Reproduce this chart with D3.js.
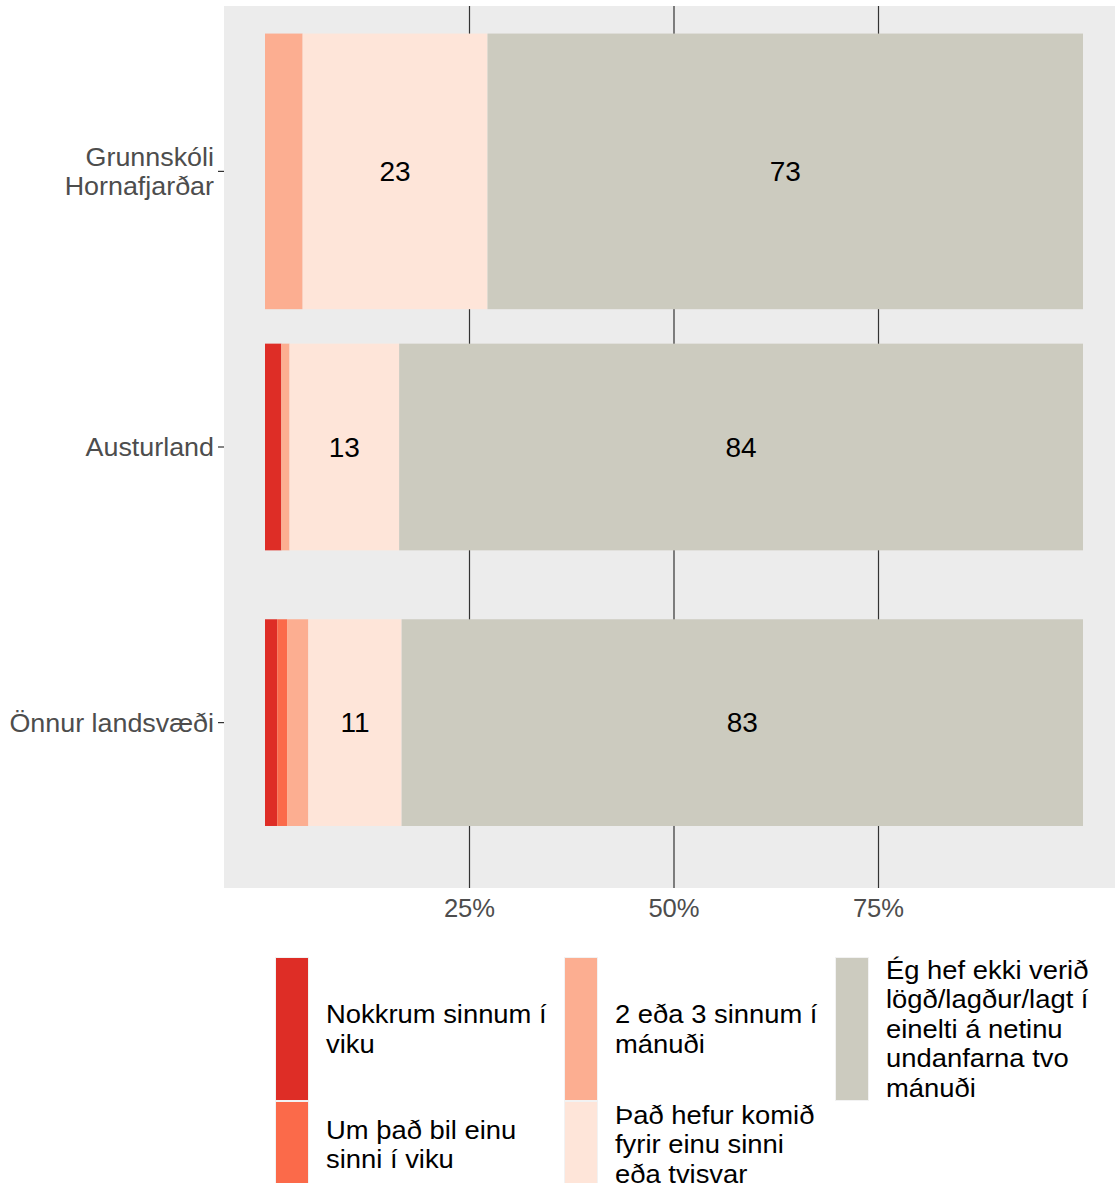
<!DOCTYPE html>
<html>
<head>
<meta charset="utf-8">
<script src="https://cdn.jsdelivr.net/npm/d3@7"></script>
<style>
  body { margin: 0; background: #fff; }
  svg { display: block; font-family: "Liberation Sans", Arial, sans-serif; }
</style>
</head>
<body>
<div id="chart"></div>
<script>
'use strict';

// categories (top to bottom)
var categories = ["Grunnskóli\nHornafjarðar", "Austurland", "Önnur landsvæði"];

// answer options, in stacking order (left to right)
var series = [
    "Nokkrum sinnum í\nviku",
    "Um það bil einu\nsinni í viku",
    "2 eða 3 sinnum í\nmánuði",
    "Það hefur komið\nfyrir einu sinni\neða tvisvar",
    "Ég hef ekki verið\nlögð/lagður/lagt í\neinelti á netinu\nundanfarna tvo\nmánuði"
];

// percentages per category, one array per answer option
var valNokkrum = [0, 2.0, 1.5];
var valEinuSinni = [0, 0, 1.2];
var valTvoThrju = [4.6, 1.0, 2.6];
var valEinuTvisvar = [22.6, 13.4, 11.4];
var valEkki = [72.8, 83.6, 83.3];

var xTicks = [0.25, 0.5, 0.75];
var xTickLabels = ["25%", "50%", "75%"];

var colors = ["#de2d26", "#fb6a4a", "#fcae91", "#fee5d9", "#cccbbf"];

(function() {
    var W = 1115, H = 1183;
    var panel = { left: 224, right: 1115, top: 6, bottom: 888 };
    var barWidths = [1.0, 0.75, 0.75]; // relative bar thickness per category

    var allVals = [valNokkrum, valEinuSinni, valTvoThrju, valEinuTvisvar, valEkki];

    // build rows
    var rows = categories.map(function(c, i) {
        var row = { cat: c, idx: i };
        series.forEach(function(s, j) { row[s] = allVals[j][i]; });
        return row;
    });

    var stack = d3.stack().keys(series).offset(d3.stackOffsetExpand);
    var stacked = stack(rows);

    var x = d3.scaleLinear().domain([0, 1]).range([265, 1083]);
    var y = d3.scalePoint().domain(categories).range([panel.top, panel.bottom]).padding(0.6);
    var step = y.step();

    var svg = d3.select("#chart").append("svg")
        .attr("width", W).attr("height", H);

    // multi-line text, slightly stretched horizontally to match the original rendering
    function addText(parent, px, py, str, opts) {
        var lines = str.split("\n");
        var g = parent.append("g")
            .attr("transform", "translate(" + px + "," + py + ") scale(" + (opts.sx || 1) + ",1)");
        var t = g.append("text")
            .attr("text-anchor", opts.anchor || "start")
            .attr("font-size", opts.size)
            .attr("fill", opts.fill);
        lines.forEach(function(l, k) {
            t.append("tspan")
                .attr("x", 0)
                .attr("y", (k - (lines.length - 1) / 2) * opts.lh)
                .attr("dy", "0.35em")
                .text(l);
        });
        return g;
    }

    // panel background
    svg.append("rect")
        .attr("x", panel.left).attr("y", panel.top)
        .attr("width", panel.right - panel.left).attr("height", panel.bottom - panel.top)
        .attr("fill", "#ececec");

    // gridlines
    svg.append("g").selectAll("line")
        .data(xTicks).enter().append("line")
        .attr("x1", function(d) { return x(d); }).attr("x2", function(d) { return x(d); })
        .attr("y1", panel.top).attr("y2", panel.bottom)
        .attr("stroke", "#333").attr("stroke-width", 1.2);

    // bars
    var layers = svg.append("g").selectAll("g")
        .data(stacked).enter().append("g")
        .attr("fill", function(d, i) { return colors[i]; });

    layers.selectAll("rect")
        .data(function(d) { return d; })
        .enter().append("rect")
        .attr("x", function(d) { return x(d[0]); })
        .attr("width", function(d) { return x(d[1]) - x(d[0]); })
        .attr("y", function(d) { return y(d.data.cat) - barWidths[d.data.idx] * step / 2; })
        .attr("height", function(d) { return barWidths[d.data.idx] * step; });

    // value labels (only for bigger segments)
    var vals = svg.append("g");
    stacked.forEach(function(layer) {
        layer.forEach(function(d) {
            var v = d.data[layer.key];
            if (v >= 10) {
                addText(vals, x((d[0] + d[1]) / 2), y(d.data.cat), String(Math.round(v)),
                    { anchor: "middle", size: 28, fill: "#000", lh: 0, sx: 1 });
            }
        });
    });

    // y axis ticks + labels
    var yAxis = svg.append("g");
    categories.forEach(function(c) {
        var cy = y(c);
        yAxis.append("line")
            .attr("x1", panel.left - 6).attr("x2", panel.left)
            .attr("y1", cy).attr("y2", cy)
            .attr("stroke", "#333").attr("stroke-width", 1.2);
        addText(yAxis, panel.left - 10, cy, c,
            { anchor: "end", size: 25.6, fill: "#4d4d4d", lh: 29, sx: 1.05 });
    });

    // x tick labels
    var xAxis = svg.append("g");
    xTicks.forEach(function(d, i) {
        addText(xAxis, x(d), 908, xTickLabels[i],
            { anchor: "middle", size: 25.6, fill: "#4d4d4d", lh: 0, sx: 1 });
    });

    // legend: 3 columns, filled column-wise, 2 rows
    var colX = [276, 565, 836];
    var rowY = [958, 1102];
    var rowH = [142, 85];
    var keyW = 32;
    var legend = svg.append("g");
    series.forEach(function(s, i) {
        var col = Math.floor(i / 2), row = i % 2;
        var lx = colX[col], ly = rowY[row], kh = rowH[row];
        legend.append("rect")
            .attr("x", lx - 1).attr("y", ly - 1)
            .attr("width", keyW + 2).attr("height", kh + 2)
            .attr("fill", "#f2f2f2");
        legend.append("rect")
            .attr("x", lx).attr("y", ly)
            .attr("width", keyW).attr("height", kh)
            .attr("fill", colors[i]);
        addText(legend, lx + keyW + 18, ly + kh / 2, s,
            { anchor: "start", size: 25.6, fill: "#000", lh: 29.5, sx: 1.07 });
    });
})();
</script>
</body>
</html>
